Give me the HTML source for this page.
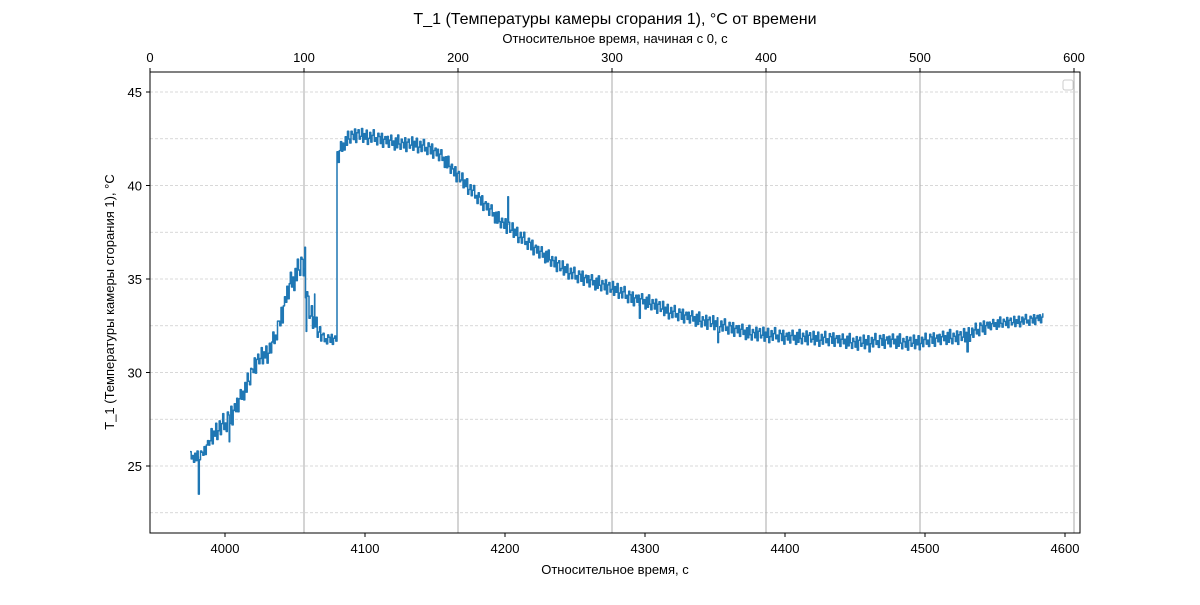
<!DOCTYPE html>
<html><head><meta charset="utf-8"><style>
body{margin:0;background:#fff;font-family:"Liberation Sans","DejaVu Sans",sans-serif}
svg text{font-family:"Liberation Sans","DejaVu Sans",sans-serif;fill:#000}
</style></head><body>
<svg id="c" width="1200" height="600"></svg>
<script>
const tStart=3975, tStep=5;
const means=[25.5,25.5,25.8,26.5,27,27.3,27.8,28.5,29.3,30.3,30.8,31,31.8,33,34.5,35.2,36,33.2,32.5,31.8,31.8,41.5,42.3,42.7,42.7,42.6,42.6,42.5,42.4,42.3,42.3,42.2,42.2,42.1,42,41.8,41.5,41.1,40.6,40.2,39.8,39.4,39,38.6,38.2,37.9,37.6,37.3,37,36.7,36.4,36.2,35.9,35.6,35.4,35.2,35.1,34.9,34.8,34.7,34.5,34.4,34.2,34,33.9,33.8,33.7,33.5,33.3,33.2,33.1,33,32.9,32.8,32.7,32.6,32.5,32.4,32.3,32.2,32.1,32.1,32,32,32,31.9,31.9,31.9,31.9,31.8,31.8,31.8,31.8,31.7,31.7,31.6,31.6,31.6,31.7,31.7,31.7,31.7,31.6,31.6,31.6,31.7,31.8,31.8,31.9,31.9,31.9,32,32.2,32.4,32.5,32.6,32.7,32.7,32.7,32.8,32.8,32.9];
const spread=[0.3,0.3,0.3,0.5,0.6,0.6,0.6,0.5,0.5,0.5,0.5,0.5,0.5,0.6,0.7,0.6,0.6,0.6,0.5,0.3,0.3,0.5,0.4,0.4,0.4,0.4,0.4,0.4,0.4,0.4,0.4,0.4,0.4,0.4,0.4,0.4,0.4,0.4,0.4,0.4,0.4,0.4,0.4,0.4,0.4,0.4,0.4,0.4,0.4,0.4,0.4,0.4,0.4,0.4,0.4,0.4,0.4,0.4,0.4,0.4,0.4,0.4,0.4,0.4,0.4,0.4,0.4,0.4,0.4,0.4,0.4,0.4,0.4,0.4,0.4,0.4,0.4,0.4,0.4,0.4,0.4,0.4,0.4,0.4,0.4,0.4,0.4,0.4,0.4,0.4,0.4,0.4,0.4,0.4,0.4,0.4,0.4,0.4,0.4,0.4,0.4,0.4,0.4,0.4,0.4,0.4,0.4,0.4,0.4,0.4,0.4,0.4,0.4,0.4,0.3,0.3,0.3,0.3,0.3,0.3,0.3,0.3];
const noise=[0.9,-0.4,0.2,-1,0.6,-0.7,1,-0.2,-0.9,0.5,0.1,-0.6,0.8,-1,0.3,0.7,-0.5,-0.1,1,-0.8,0.4,-0.3,0.9,-1,-0.2,0.6,-0.7,0.2,1,-0.5,0,-0.9,0.7,0.3,-0.6,0.8,-1,0.1,0.5,-0.4,0.6,-0.8,0.2];
const spikes=[[3981,23.5],[4003,26.3],[4057,36.7],[4058,32.2],[4064,34.2],[4202,39.4],[4296,32.9],[4352,31.6],[4460,31.1],[4530,31.1]];
const xTicks=[4000,4100,4200,4300,4400,4500,4600];
const topTicks=[0,100,200,300,400,500,600];
const yTicks=[25,30,35,40,45];
const yGrid=[22.5,25,27.5,30,32.5,35,37.5,40,42.5,45];

const L=150,R=1080,T=72,B=533;
const X=t=>225+(t-4000)*1.4;
const XT=s=>150+s*1.54;
const Y=v=>92+(45-v)*18.7;
const NS='http://www.w3.org/2000/svg';
const svg=document.getElementById('c');
function el(tag,attrs,text){const e=document.createElementNS(NS,tag);for(const k in attrs)e.setAttribute(k,attrs[k]);if(text!==undefined)e.textContent=text;svg.appendChild(e);return e;}

yGrid.forEach(v=>{const e=el('line',{x1:L,x2:R,y1:Y(v),y2:Y(v),stroke:'#ccc','stroke-width':0.7,'stroke-dasharray':'3,2'});

});
topTicks.forEach(s=>{const e=el('line',{x1:XT(s),x2:XT(s),y1:T,y2:B,stroke:'#aaa','stroke-width':1});

});

let pts=[];
const SUB=6;
let n=0;
means.forEach((m,i)=>{
  const t=tStart+i*tStep;
  let m2=i+1<means.length?means[i+1]:m;
  if(Math.abs(m2-m)>3) m2=m; // sharp jumps stay sharp
  for(let k=0;k<SUB;k++){
    const f=k/SUB;
    const mm=m+(m2-m)*f;
    pts.push([t+tStep*f, mm+spread[i]*noise[n%noise.length]]);
    n++;
  }
});
spikes.forEach(s=>pts.push(s));
pts.sort((a,b)=>a[0]-b[0]);
let d='';
pts.forEach((p,i)=>{
  const x=X(p[0]).toFixed(1), y=Y(p[1]).toFixed(1);
  if(i===0) d+='M'+x+','+y;
  else d+=' H'+x+' V'+y;
});
const line=el('path',{d:d,fill:'none',stroke:'#1f77b4','stroke-width':1.5,'stroke-linejoin':'round'});



const frame=el('rect',{x:L,y:T,width:R-L,height:B-T,fill:'none',stroke:'#000','stroke-width':1});



xTicks.forEach(t=>{el('line',{x1:X(t),x2:X(t),y1:B,y2:B+4,stroke:'#000'});
const e=el('text',{x:X(t),y:B+20,'font-size':13,'text-anchor':'middle'},t);

});
topTicks.forEach(s=>{el('line',{x1:XT(s),x2:XT(s),y1:T,y2:T-4,stroke:'#000'});
const e=el('text',{x:XT(s),y:T-10,'font-size':13,'text-anchor':'middle'},s);

});
yTicks.forEach(v=>{el('line',{x1:L,x2:L-4,y1:Y(v),y2:Y(v),stroke:'#000'});
const e=el('text',{x:L-8,y:Y(v)+5,'font-size':13,'text-anchor':'end'},v);

});

let e;
e=el('text',{x:615,y:24,'font-size':16,'text-anchor':'middle'},'T_1 (Температуры камеры сгорания 1), °C от времени');


e=el('text',{x:615,y:43,'font-size':13,'text-anchor':'middle'},'Относительное время, начиная с 0, с');


e=el('text',{x:615,y:574,'font-size':13,'text-anchor':'middle'},'Относительное время, с');


e=el('text',{x:114,y:302,'font-size':13,'text-anchor':'middle',transform:'rotate(-90 114 302)'},'T_1 (Температуры камеры сгорания 1), °C');


e=el('rect',{x:1063,y:80,width:10,height:10,rx:2,fill:'#fff',stroke:'#ccc'});


</script>
</body></html>
